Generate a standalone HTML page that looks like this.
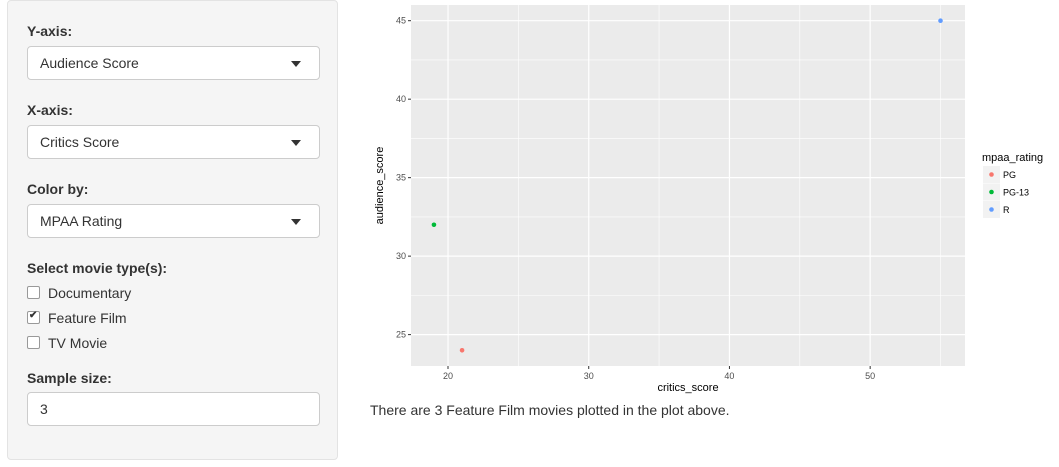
<!DOCTYPE html>
<html><head><meta charset="utf-8"><style>
body{margin:0;width:1059px;height:467px;background:#fff;font-family:"Liberation Sans",sans-serif;color:#333;position:relative;overflow:hidden}
.side{position:absolute;left:7px;top:0;width:331px;height:460px;background:#f5f5f5;border:1px solid #e3e3e3;border-radius:4px;box-sizing:border-box}
.lbl{position:absolute;left:19px;font-weight:bold;font-size:14px}
.sel,.inp{position:absolute;left:19px;width:293px;height:34px;background:#fff;border:1px solid #ccc;border-radius:4px;box-sizing:border-box;font-size:14px;padding:8px 12px}
.sel:after{content:"";position:absolute;right:18px;top:14px;border-left:5px solid transparent;border-right:5px solid transparent;border-top:6px solid #333}
.cb{position:absolute;left:19px;font-size:14px}
.cb span{display:inline-block;width:11px;height:11px;border:1px solid #999;border-radius:2px;background:#fff;vertical-align:-1px;margin-right:8px;position:relative}
.note{position:absolute;left:370px;top:402px;font-size:14px}
</style></head><body>
<div class="side">
<div class="lbl" style="top:22px">Y-axis:</div>
<div class="sel" style="top:45px">Audience Score</div>
<div class="lbl" style="top:101px">X-axis:</div>
<div class="sel" style="top:124px">Critics Score</div>
<div class="lbl" style="top:180px">Color by:</div>
<div class="sel" style="top:203px">MPAA Rating</div>
<div class="lbl" style="top:259px">Select movie type(s):</div>
<div class="cb" style="top:284px"><span></span>Documentary</div>
<div class="cb" style="top:309px"><span><b style="position:absolute;left:1px;top:-2px;font-size:10px">✔</b></span>Feature Film</div>
<div class="cb" style="top:334px"><span></span>TV Movie</div>
<div class="lbl" style="top:369px">Sample size:</div>
<div class="inp" style="top:391px">3</div>
</div>
<svg id="chart" width="1059" height="400" style="position:absolute;left:0;top:0"></svg>
<div class="note">There are 3 Feature Film movies plotted in the plot above.</div>
<script>
const categories=["PG","PG-13","R"];
const xValues=[21,19,55];
const yValues=[24,32,45];
const colors=["#F8766D","#00BA38","#619CFF"];
const xTicks=[20,30,40,50];
const yTicks=[25,30,35,40,45];
const X0=411,X1=965,Y0=5,Y1=366;
const xMin=17.37,xMax=56.74,yMin=23.0,yMax=46.0;
const sx=v=>X0+(v-xMin)/(xMax-xMin)*(X1-X0);
const sy=v=>Y1-(v-yMin)/(yMax-yMin)*(Y1-Y0);
const svg=document.getElementById('chart');const NS="http://www.w3.org/2000/svg";
function mk(t,a,p){const e=document.createElementNS(NS,t);for(const k in a)e.setAttribute(k,a[k]);(p||svg).appendChild(e);return e;}
const bg=mk('rect',{x:X0,y:Y0,width:X1-X0,height:Y1-Y0,fill:'#ebebeb'});


for(let i=0;i<xTicks.length+1;i++){const v=xTicks[0]-5+i*10;const p=sx(v);if(p>X0&&p<X1)mk('line',{x1:p,x2:p,y1:Y0,y2:Y1,stroke:'#fff','stroke-width':0.6});}
for(let i=0;i<yTicks.length+1;i++){const v=yTicks[0]-2.5+i*5;const p=sy(v);if(p>Y0&&p<Y1)mk('line',{x1:X0,x2:X1,y1:p,y2:p,stroke:'#fff','stroke-width':0.6});}
xTicks.forEach(v=>{const p=sx(v);mk('line',{x1:p,x2:p,y1:Y0,y2:Y1,stroke:'#fff','stroke-width':1.2});mk('line',{x1:p,x2:p,y1:Y1,y2:Y1+3,stroke:'#333'});const t=mk('text',{x:p,y:Y1+13,'text-anchor':'middle','font-size':9,fill:'#4d4d4d'});t.textContent=v;});
yTicks.forEach(v=>{const p=sy(v);mk('line',{x1:X0,x2:X1,y1:p,y2:p,stroke:'#fff','stroke-width':1.2});mk('line',{x1:X0-3,x2:X0,y1:p,y2:p,stroke:'#333'});const t=mk('text',{x:X0-5,y:p+3,'text-anchor':'end','font-size':9,fill:'#4d4d4d'});t.textContent=v;});
xValues.forEach((v,i)=>{const c=mk('circle',{cx:sx(v),cy:sy(yValues[i]),r:2.3,fill:colors[i]});});
let t=mk('text',{x:(X0+X1)/2,y:391,'text-anchor':'middle','font-size':11,fill:'#000'});t.textContent='critics_score';


t=mk('text',{x:383,y:(Y0+Y1)/2,'text-anchor':'middle','font-size':11,fill:'#000',transform:`rotate(-90 383 ${(Y0+Y1)/2})`});t.textContent='audience_score';


t=mk('text',{x:982,y:161,'font-size':11,fill:'#000'});t.textContent='mpaa_rating';


categories.forEach((c,i)=>{const y=166+i*17.5;const g=mk('g',{});mk('rect',{x:983,y:y,width:17,height:17,fill:'#f2f2f2'},g);mk('circle',{cx:991.5,cy:y+8.5,r:2.3,fill:colors[i]},g);const tt=mk('text',{x:1003,y:y+12,'font-size':9,fill:'#000'},g);tt.textContent=c;});
</script>
</body></html>
